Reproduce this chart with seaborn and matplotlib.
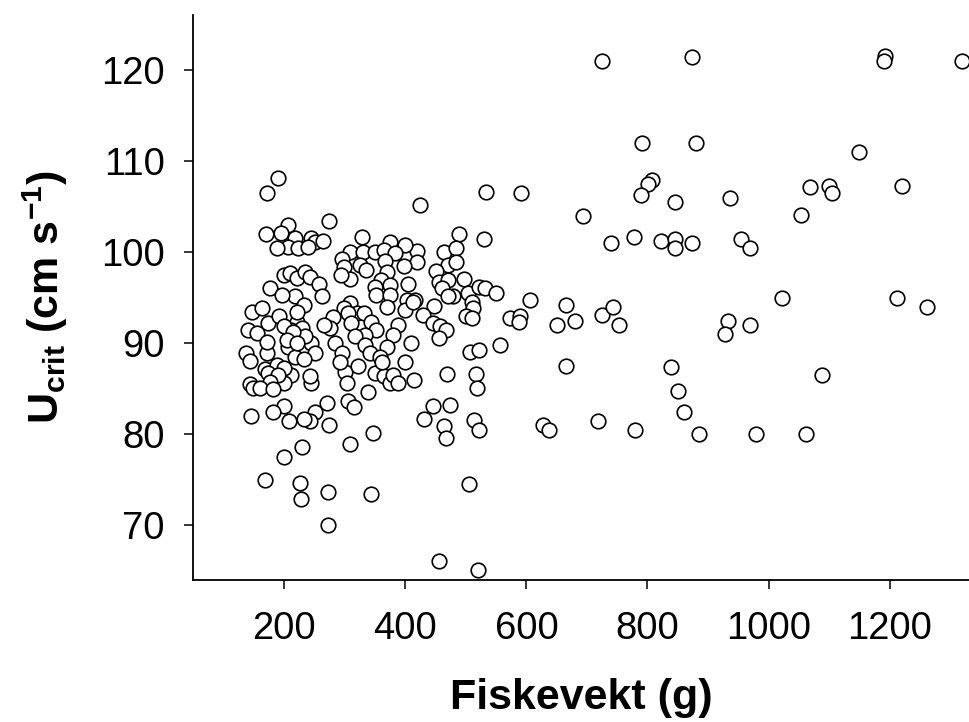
import matplotlib
matplotlib.use("Agg")
import pandas as pd
import seaborn as sns
import matplotlib.pyplot as plt

# ===== DATA =====
# fish weight (g) and critical swimming speed (cm/s)
weight_heavy = [725, 874, 1192, 1190, 1320, 791, 880, 1149, 807, 801, 790, 845, 937,
                1068, 1099, 1104, 1221, 1053, 693, 740, 777, 823, 845, 845, 873, 954,
                969, 1022, 1212, 1261, 665, 650, 680, 725, 743, 753, 933, 928, 969,
                665, 838, 1088, 851, 861, 719, 628, 638, 779, 885, 979, 1062]
ucrit_heavy = [121.0, 121.5, 121.6, 121.0, 121.0, 112.0, 112.0, 111.0, 108.0, 107.5, 106.3,
               105.5, 106.0, 107.2, 107.35, 106.5, 107.35, 104.1, 104.0, 101.0, 101.75, 101.3,
               101.5, 100.5, 101.0, 101.5, 100.5, 95.0, 95.0, 94.0, 94.2, 92.0, 92.5, 93.1,
               94.0, 92.0, 92.5, 91.0, 92.0, 87.5, 87.4, 86.5, 84.8, 82.5, 81.5, 81.0, 80.5,
               80.5, 80.0, 80.0, 80.0]

weight_mid = [424, 534, 591, 488, 530, 419, 419, 464, 484, 471, 484, 451, 456, 471, 497,
              460, 479, 470, 504, 522, 532, 550, 510, 511, 500, 510, 606, 573, 589, 587,
              447, 430, 445, 457, 468, 455, 507, 521, 556, 415, 469, 516, 518, 445, 474,
              431, 464, 468, 514, 521, 506, 456, 520]
ucrit_mid = [105.2, 106.6, 106.5, 102.0, 101.5, 100.2, 98.9, 100.1, 100.5, 98.6, 98.9, 98.0,
             96.8, 97.0, 97.1, 96.1, 95.2, 95.2, 95.5, 96.2, 96.1, 95.5, 94.6, 93.9, 93.0,
             92.8, 94.8, 92.8, 93.0, 92.4, 94.1, 93.1, 92.2, 91.9, 91.5, 90.6, 89.1, 89.3,
             89.8, 86.0, 86.6, 86.6, 85.05, 83.1, 83.2, 81.7, 80.9, 79.6, 81.6, 80.5, 74.6,
             66.05, 65.05]

weight_light = [274, 207, 218, 244, 251, 264, 207, 223, 240, 328, 375, 399, 309, 330, 350,
                364, 383, 295, 298, 326, 335, 366, 398, 309, 294, 369, 360, 350, 375, 405,
                352, 375, 402, 416, 199, 210, 221, 234, 243, 258, 263, 218, 309, 298, 320,
                281, 306, 331, 344, 369, 388, 399, 413, 410, 380, 369, 352, 334, 311, 317,
                276, 265, 245, 221, 212, 229, 234, 207, 284, 295, 333, 342, 358, 251, 218,
                212, 245, 199, 300, 303, 322, 339, 350, 364, 375, 380, 388, 399, 361, 292,
                270, 251, 243, 208, 199, 274, 305, 315, 308, 347, 229, 200, 226, 227, 272,
                343, 273,
                137, 143, 171, 232, 168, 188, 199, 174, 190, 243, 177, 143, 148, 160, 181,
                181, 145, 232, 168,
                190, 172, 170, 194, 188, 177, 196, 232, 146, 163, 221, 141, 155, 174, 192,
                199, 215, 171, 204, 221]
ucrit_light = [103.5, 103.0, 101.6, 101.6, 101.1, 101.3, 100.6, 100.5, 100.65, 101.7, 101.1,
               100.8, 100.1, 100.1, 100.0, 100.3, 99.9, 99.3, 98.4, 98.6, 98.1, 99.1, 98.5,
               97.1, 97.5, 97.9, 97.0, 96.25, 96.4, 96.55, 95.3, 95.3, 94.8, 94.8, 97.5, 97.7,
               97.2, 97.9, 97.3, 96.55, 95.2, 95.2, 94.4, 93.9, 93.3, 92.95, 93.3, 93.3, 92.4,
               94.05, 92.0, 93.7, 94.6, 90.1, 90.95, 89.65, 91.5, 90.95, 92.2, 90.8, 91.7,
               92.05, 90.0, 92.4, 91.5, 91.7, 90.8, 89.65, 90.0, 88.9, 89.8, 88.9, 88.55, 88.9,
               88.55,
               86.55, 85.6, 85.6, 86.9, 85.7, 87.5, 84.7, 86.7, 86.4, 85.6, 86.55, 85.7, 88.0,
               88.0, 88.0, 83.4, 82.5, 81.5, 81.5, 83.1, 81.0, 83.7, 83.0, 78.95, 80.1, 78.6,
               77.5, 74.7, 72.9, 73.7, 73.4, 70.0,
               89.0, 88.1, 89.0, 88.3, 87.2, 87.65, 87.3, 86.7, 86.55, 86.4, 85.8, 85.55, 85.1,
               85.1, 85.0, 82.5, 82.0, 81.7, 75.0,
               108.2, 106.5, 102.0, 102.1, 100.5, 96.1, 95.3, 94.2, 93.5, 93.9, 93.5, 91.5,
               91.1, 92.2, 93.0, 91.9, 91.3, 90.2, 90.4, 90.1]

df = pd.DataFrame({
    "weight": weight_heavy + weight_mid + weight_light,
    "ucrit": ucrit_heavy + ucrit_mid + ucrit_light,
})

x_ticks = [200, 400, 600, 800, 1000, 1200]
y_ticks = [70, 80, 90, 100, 110, 120]

# ===== STYLE =====
sns.set_style("ticks")
plt.rcParams["font.family"] = ["Liberation Sans", "DejaVu Sans"]
plt.rcParams["mathtext.fontset"] = "custom"
plt.rcParams["mathtext.bf"] = "Liberation Sans:bold"
plt.rcParams["mathtext.rm"] = "Liberation Sans:bold"
for key in ["text.color", "axes.labelcolor", "xtick.color", "ytick.color", "axes.edgecolor"]:
    plt.rcParams[key] = "black"

# ===== PLOT =====
fig = plt.figure(figsize=(9.69, 7.22), dpi=100)
ax = fig.add_axes([0.1992, 0.1967, 0.8008, 0.7826])

sns.scatterplot(data=df, x="weight", y="ucrit", ax=ax, s=110,
                color="white", edgecolor="black", linewidth=1.2, legend=False)

ax.set_xlim(49.4, 1331)
ax.set_ylim(64.0, 126.1)
ax.set_xticks(x_ticks)
ax.set_yticks(y_ticks)
ax.tick_params(axis="both", labelsize=27.5, length=6.5, width=1.1, pad=14,
               direction="out")
ax.tick_params(axis="x", pad=16)

sns.despine(ax=ax)
for side in ["left", "bottom"]:
    ax.spines[side].set_linewidth(1.3)

ax.set_xlabel("Fiskevekt (g)", fontsize=31, fontweight="bold", labelpad=22)
ax.set_ylabel(r"U$_{\mathbf{crit}}$ (cm s$^{\mathbf{-1}}$)", fontsize=31,
              fontweight="bold", labelpad=22)

fig.savefig("out.png", dpi=100)
